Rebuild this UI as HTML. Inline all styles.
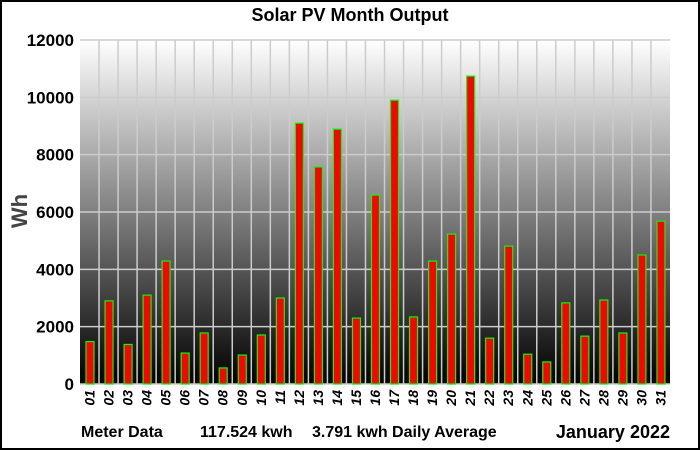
<!DOCTYPE html>
<html><head><meta charset="utf-8"><style>
html,body{margin:0;padding:0;background:#fff}
svg{display:block;font-family:"Liberation Sans",Arial,sans-serif}
</style></head><body>
<svg width="700" height="450" viewBox="0 0 700 450">
<defs><linearGradient id="bg" x1="0" y1="0" x2="0" y2="1"><stop offset="0" stop-color="#fff"/><stop offset="1" stop-color="#000"/></linearGradient></defs>
<rect x="1" y="1" width="698" height="448" fill="#fff" stroke="#000" stroke-width="2"/>
<text x="350" y="21" text-anchor="middle" font-size="18" font-weight="bold">Solar PV Month Output</text>
<rect x="80" y="40" width="590" height="344" fill="url(#bg)"/>
<g id="grid"></g><g id="bars"></g><g id="ylab"></g><g id="xlab"></g>
<text transform="translate(27,211) rotate(-90)" text-anchor="middle" font-size="22" font-weight="bold" fill="#444">Wh</text>
<text x="81" y="437" font-size="16" font-weight="bold">Meter Data</text>
<text x="200" y="437" font-size="16" font-weight="bold">117.524 kwh</text>
<text x="312" y="437" font-size="16" font-weight="bold">3.791 kwh Daily Average</text>
<text x="670" y="438" text-anchor="end" font-size="18" font-weight="bold">January 2022</text>
</svg>
<script>
const days=["01","02","03","04","05","06","07","08","09","10","11","12","13","14","15","16","17","18","19","20","21","22","23","24","25","26","27","28","29","30","31"];
const values=[1480,2900,1380,3100,4290,1080,1780,560,1010,1710,3000,9100,7570,8890,2300,6590,9900,2340,4290,5230,10740,1600,4810,1040,770,2830,1670,2930,1780,4500,5680];
const yTicks=[0,2000,4000,6000,8000,10000,12000];
const ns="http://www.w3.org/2000/svg";
const X0=80,Y0=384,PW=590,PH=344,YMAX=12000,CW=PW/days.length;
const y=v=>Y0-v/YMAX*PH, x=i=>X0+i*CW;
function mk(t,a,p){const e=document.createElementNS(ns,t);for(const k in a)e.setAttribute(k,a[k]);document.getElementById(p).appendChild(e);return e;}
yTicks.forEach(t=>{
 const l=mk('line',{x1:X0,x2:X0+PW,y1:y(t),y2:y(t),stroke:'#ccc','stroke-width':1.5},'grid');
 
 
 const tx=mk('text',{x:X0-6,y:y(t)+6,'text-anchor':'end','font-size':17,'font-weight':'bold'},'ylab');
 tx.textContent=t;
 
 
});
days.forEach((d,i)=>{
 if(i>0){const l=mk('line',{x1:x(i),x2:x(i),y1:Y0-PH,y2:Y0,stroke:'#ccc','stroke-width':1.5},'grid');
 
 }
 const b=mk('rect',{x:x(i)+6,y:y(values[i]),width:8,height:Y0-y(values[i]),fill:'#f00',stroke:'#0f0','stroke-width':1.2},'bars');
 
 
 const tx=mk('text',{transform:`translate(${x(i)+CW/2+5},${Y0+6}) rotate(-90)`,'text-anchor':'end','font-size':14,'font-style':'italic','font-weight':'bold'},'xlab');
 tx.textContent=d;
 
 
});
</script>
</body></html>
